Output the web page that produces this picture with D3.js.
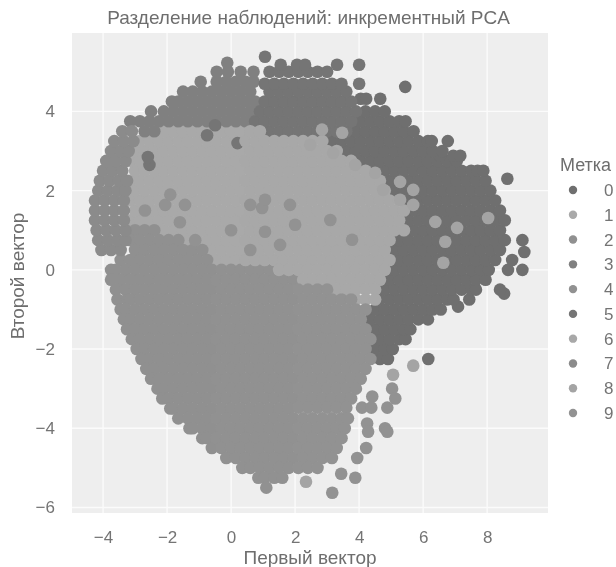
<!DOCTYPE html>
<html>
<head>
<meta charset="utf-8">
<script src="https://cdn.jsdelivr.net/npm/d3@7"></script>
<style>
  body { margin: 0; background: #fff; }
  svg { display: block; filter: blur(0.6px); font-family: "Liberation Sans", Arial, sans-serif; }
</style>
</head>
<body>
<svg id="chart" width="616" height="567"></svg>
<script>
const titleText = 'Разделение наблюдений: инкрементный PCA';
const xLabel = 'Первый вектор';
const yLabel = 'Второй вектор';
const legendTitle = 'Метка';
const labels = [0, 1, 2, 3, 4, 5, 6, 7, 8, 9];
const greys = ['#6f6f6f', '#a9a9a9', '#909090', '#808080', '#919191', '#757575', '#a8a8a8', '#8b8b8b', '#a4a4a4', '#929292'];
const xTicks = [-4, -2, 0, 2, 4, 6, 8];
const yTicks = [4, 2, 0, -2, -4, -6];

// each row: y first, then the x values read along that row
const rows0 = [
  [-2.25,4.65,4.9,6.16],
  [-2,4.5,4.8,5.05],
  [-1.75,4.65,4.95,5.25,5.45],
  [-1.5,4.5,4.8,5.1,5.4,5.6],
  [-1.25,4.35,4.65,4.95,5.25,5.55,5.85,6.15],
  [-1,4.5,4.8,5.1,5.4,5.7,6,6.3,6.55],
  [-0.93,7.09],
  [-0.75,4.65,4.95,5.25,5.55,5.85,6.15,6.45,6.75,6.95,7.44],
  [-0.6,8.53],
  [-0.5,4.8,5.1,5.4,5.7,6,6.3,6.6,6.9,7.2,7.5,7.65,8.4],
  [-0.25,4.95,5.25,5.55,5.85,6.15,6.45,6.75,7.05,7.35,7.65,7.95],
  [0,5.1,5.4,5.7,6,6.3,6.6,6.9,7.2,7.5,7.8,8.05,8.65,9.1],
  [0.25,5.25,5.55,5.85,6.15,6.45,6.75,7.05,7.35,7.65,7.95,8.25,8.78],
  [0.45,9.16],
  [0.5,5.1,5.4,5.7,6,6.3,6.6,6.9,7.2,7.5,7.8,8.1,8.4],
  [0.75,5.25,5.55,5.85,6.15,6.45,6.75,7.05,7.35,7.65,7.95,8.25,8.55,9.1],
  [1,5.7,6,6.3,6.6,6.9,7.2,7.5,7.8,8.1,8.4],
  [1.25,5.55,5.85,6.15,6.45,6.75,7.05,7.35,7.65,7.95,8.25,8.55],
  [1.5,5.7,6,6.3,6.6,6.9,7.2,7.5,7.8,8.1,8.4],
  [1.75,5.55,5.85,6.15,6.45,6.75,7.05,7.35,7.65,7.95,8.25],
  [2,5.1,5.4,5.7,6,6.3,6.6,6.9,7.2,7.5,7.8,8.1],
  [2.25,4.95,5.25,5.55,5.85,6.15,6.45,6.75,7.05,7.35,7.65,7.95],
  [2.3,8.63],
  [2.5,4.5,4.8,5.1,5.4,5.7,6,6.3,6.6,6.9,7.2,7.5,7.7,7.88],
  [2.75,4.05,4.35,4.65,4.95,5.25,5.55,5.85,6.15,6.45,6.75,7.05],
  [2.88,6.53,6.94,7.16],
  [3,3.6,3.9,4.2,4.5,4.8,5.1,5.4,5.7,6,6.3,6.6],
  [3.25,3.15,3.45,3.75,4.05,4.35,4.65,4.95,5.25,5.55,5.85,6.15,6.27,6.77],
  [3.5,3.9,4.2,4.5,4.8,5.1,5.4,5.7],
  [3.75,4.05,4.35,4.65,4.95,5.25,5.45],
  [4,4.2,4.5,4.8],
  [4.32,4.05,4.22,4.66],
  [4.62,5.44]
];
const rows1 = [
  [0.25,-0.45,-0.15,0.15],
  [0.5,-0.6,-0.3,0,0.3],
  [0.75,-1.35,-1.05,-0.75,-0.45,-0.15,0.15],
  [1,-2.1,-1.8,-1.5,-1.2,-0.9,-0.6,-0.3,0,0.3],
  [1.25,-3.15,-2.85,-2.55,-2.25,-1.95,-1.65,-1.35,-1.05,-0.75,-0.45,-0.15,0.15],
  [1.5,-3,-2.7,-2.4,-2.1,-1.8,-1.5,-1.2,-0.9,-0.6,-0.3,0,0.3],
  [1.75,-3.15,-2.85,-2.55,-2.25,-1.95,-1.65,-1.35,-1.05,-0.75,-0.45,-0.15,0.15],
  [2,-3,-2.7,-2.4,-2.1,-1.8,-1.5,-1.2,-0.9,-0.6,-0.3,0,0.3],
  [2.25,-3.15,-2.85,-2.55,-2.25,-1.95,-1.65,-1.35,-1.05,-0.75,-0.45,-0.15,0.15],
  [2.5,-3,-2.7,-2.4,-2.1,-1.8,-1.5,-1.2,-0.9,-0.6,-0.3,0,0.3],
  [2.75,-3.15,-2.85,-2.55,-2.25,-1.95,-1.65,-1.35,-1.05,-0.75,-0.45,-0.15,0.15],
  [3,-3,-2.7,-2.4,-2.1,-1.8,-1.5,-1.2,-0.9,-0.6,-0.3,0,0.3],
  [3.25,-2.85,-2.55,-2.25,-1.95,-1.65,-1.35,-1.05,-0.75,-0.45,-0.15,0.15],
  [3.5,-2.1,-1.8,-1.5,-1.2,-0.9,-0.6,-0.3,0,0.3]
];
const rows2 = [
  [1,-3,-2.7,-2.4],
  [0.75,-3.15,-2.85,-2.55,-2.25,-1.95,-1.65],
  [0.5,-3,-2.7,-2.4,-2.1,-1.8,-1.5,-1.2,-0.9],
  [0.25,-3.45,-3.15,-2.85,-2.55,-2.25,-1.95,-1.65,-1.35,-1.05,-0.75],
  [0,-3.75,-3.6,-3.3,-3,-2.7,-2.4,-2.1,-1.8,-1.5,-1.2,-0.9,-0.6],
  [-0.25,-3.75,-3.45,-3.15,-2.85,-2.55,-2.25,-1.95,-1.65,-1.35,-1.05,-0.75],
  [-0.5,-3.6,-3.3,-3,-2.7,-2.4,-2.1,-1.8,-1.5,-1.2,-0.9,-0.6],
  [-0.75,-3.55,-3.25,-3.15,-2.85,-2.55,-2.25,-1.95,-1.65,-1.35,-1.05,-0.75],
  [-1,-3.45,-3.3,-3,-2.7,-2.4,-2.1,-1.8,-1.5,-1.2,-0.9,-0.6],
  [-1.25,-3.35,-3.15,-2.85,-2.55,-2.25,-1.95,-1.65,-1.35,-1.05,-0.75],
  [-1.5,-3.25,-3,-2.7,-2.4,-2.1,-1.8,-1.5,-1.2,-0.9,-0.6],
  [-1.75,-3.1,-2.85,-2.55,-2.25,-1.95,-1.65,-1.35,-1.05,-0.75],
  [-2,-2.95,-2.7,-2.4,-2.1,-1.8,-1.5,-1.2,-0.9,-0.6],
  [-2.25,-2.8,-2.55,-2.25,-1.95,-1.65,-1.35,-1.05,-0.75],
  [-2.5,-2.65,-2.4,-2.1,-1.8,-1.5,-1.2,-0.9,-0.6],
  [-2.75,-2.5,-2.25,-1.95,-1.65,-1.35,-1.05,-0.75],
  [-3,-2.3,-2.1,-1.8,-1.5,-1.2,-0.9,-0.6],
  [-3.25,-2.15,-1.95,-1.65,-1.35,-1.05,-0.75],
  [-3.5,-1.9,-1.8,-1.5,-1.2,-0.9,-0.6],
  [-3.75,-1.65,-1.35,-1.05,-0.75],
  [-4,-1.3,-1.2,-0.9,-0.6],
  [-4.25,-0.9,-0.75],
  [-4.5,-0.6]
];
const rows3 = [
  [3.5,-2.7,-2.4],
  [3.75,-3.15,-2.85,-2.55,-2.25,-1.95,-1.65,-1.35,-1.05,-0.75,-0.45,-0.15,0.15,0.45],
  [4,-2.5,-2.1,-1.8,-1.5,-1.2,-0.9,-0.6,-0.3,0,0.3,0.6],
  [4.25,-1.85,-1.65,-1.35,-1.05,-0.75,-0.45,-0.15,0.15,0.45,0.75],
  [4.5,-1.5,-1.2,-0.9,-0.6,-0.3,0,0.3,0.6],
  [4.75,-0.95,-0.45,-0.15,0.15,0.45,0.7],
  [5,-0.45,-0.1,0.3,0.7],
  [5.23,-0.12]
];
const rows4 = [
  [0,-0.3,0,0.3,0.6,0.9,1.2],
  [-0.25,-0.45,-0.15,0.15,0.45,0.75,1.05,1.35,1.65,1.95],
  [-0.5,-0.3,0,0.3,0.6,0.9,1.2,1.5,1.8],
  [-0.75,-0.45,-0.15,0.15,0.45,0.75,1.05,1.35,1.65,1.95],
  [-1,-0.3,0,0.3,0.6,0.9,1.2,1.5,1.8],
  [-1.25,-0.45,-0.15,0.15,0.45,0.75,1.05,1.35,1.65,1.95],
  [-1.5,-0.3,0,0.3,0.6,0.9,1.2,1.5,1.8],
  [-1.75,-0.45,-0.15,0.15,0.45,0.75,1.05,1.35,1.65,1.95],
  [-2,-0.3,0,0.3,0.6,0.9,1.2,1.5,1.8],
  [-2.25,-0.45,-0.15,0.15,0.45,0.75,1.05,1.35,1.65,1.95],
  [-2.5,-0.3,0,0.3,0.6,0.9,1.2,1.5,1.8],
  [-2.75,-0.45,-0.15,0.15,0.45,0.75,1.05,1.35,1.65,1.95],
  [-3,-0.3,0,0.3,0.6,0.9,1.2,1.5,1.8],
  [-3.25,-0.45,-0.15,0.15,0.45,0.75,1.05,1.35,1.65,1.95],
  [-3.5,-0.3,0,0.3,0.6,0.9,1.2,1.5,1.8],
  [-3.75,-0.45,-0.15,0.15,0.45,0.75,1.05,1.35,1.65,1.95],
  [-4,-0.3,0,0.3,0.6,0.9,1.2,1.5,1.8],
  [-4.25,-0.45,-0.15,0.15,0.45,0.75,1.05,1.35,1.65,1.95],
  [-4.5,-0.3,0,0.3,0.6,0.9,1.2,1.5,1.8],
  [-4.75,-0.15,0.15,0.45,0.75,1.05,1.35,1.65,1.95],
  [-5,0.35,0.6,0.9,1.2,1.5,1.8],
  [-5.25,0.85,1.05,1.35,1.6],
  [-5.5,1.1]
];
const rows5 = [
  [2.65,-2.55],
  [2.85,-2.6],
  [3.2,0.2],
  [3.4,-0.75],
  [3.65,-0.5],
  [3.5,1.2,1.5,1.8,2.1,2.4,2.7,3,3.3,3.6],
  [3.75,0.75,1.05,1.35,1.65,1.95,2.25,2.55,2.85,3.15,3.45,3.75],
  [4,0.9,1.2,1.5,1.8,2.1,2.4,2.7,3,3.3,3.6,3.9],
  [4.25,1.05,1.35,1.65,1.95,2.25,2.55,2.85,3.15,3.45,3.75],
  [4.5,1.2,1.5,1.8,2.1,2.4,2.7,3,3.3,3.6],
  [4.7,1.05,1.35,1.65,1.95,2.25,2.55,2.85,3.15,3.45,4],
  [5,1.2,1.5,1.8,2.1,2.4,2.7,3],
  [5.18,1.55,2.06,2.31,3.31,4],
  [5.38,1.06]
];
const rows6 = [
  [0.25,0.45,0.75,1.05,1.35,1.65,1.95,2.25,2.55,2.85,3.15,3.45,3.75,4.05,4.35,4.65,4.95],
  [0,1.5,1.8,2.1,2.4,2.7,3,3.3,3.6,3.9,4.2,4.5,4.8],
  [-0.25,2.25,2.55,2.85,3.15,3.45,3.75,4.05,4.35,4.65],
  [-0.5,3.3,3.6,3.9,4.2,4.5],
  [-0.75,3.9,4.2,4.5],
  [0.5,0.6,0.9,1.2,1.5,1.8,2.1,2.4,2.7,3,3.3,3.6,3.9,4.2,4.5,4.8],
  [0.75,0.45,0.75,1.05,1.35,1.65,1.95,2.25,2.55,2.85,3.15,3.45,3.75,4.05,4.35,4.65,4.95],
  [1,0.6,0.9,1.2,1.5,1.8,2.1,2.4,2.7,3,3.3,3.6,3.9,4.2,4.5,4.8,5.1,5.4],
  [1.25,0.45,0.75,1.05,1.35,1.65,1.95,2.25,2.55,2.85,3.15,3.45,3.75,4.05,4.35,4.65,4.95,5.25],
  [1.5,0.6,0.9,1.2,1.5,1.8,2.1,2.4,2.7,3,3.3,3.6,3.9,4.2,4.5,4.8,5.1,5.4],
  [1.75,0.45,0.75,1.05,1.35,1.65,1.95,2.25,2.55,2.85,3.15,3.45,3.75,4.05,4.35,4.65,4.95,5.25],
  [2,0.6,0.9,1.2,1.5,1.8,2.1,2.4,2.7,3,3.3,3.6,3.9,4.2,4.5,4.8],
  [2.25,0.45,0.75,1.05,1.35,1.65,1.95,2.25,2.55,2.85,3.15,3.45,3.75,4.05,4.35,4.65],
  [2.5,0.6,0.9,1.2,1.5,1.8,2.1,2.4,2.7,3,3.3,3.6,3.9,4.2],
  [2.75,0.45,0.75,1.05,1.35,1.65,1.95,2.25,2.55,2.85,3.15,3.45,3.75],
  [3,0.6,0.9,1.2,1.5,1.8,2.1,2.4,2.7,3,3.3],
  [3.25,0.45,0.75,1.05,1.35,1.65,1.95,2.25,2.55,2.85],
  [3.5,0.6,0.9]
];
const rows7 = [
  [0.5,-4.05,-3.75,-3.45],
  [0.75,-4.15,-3.85,-3.55,-3.3],
  [1,-4.2,-3.9,-3.6,-3.3],
  [1.25,-4.25,-3.95,-3.65,-3.35],
  [1.5,-4.25,-3.95,-3.65,-3.35],
  [1.75,-4.25,-3.95,-3.65,-3.35],
  [2,-4.15,-3.85,-3.55,-3.3],
  [2.25,-4.1,-3.8,-3.5,-3.25],
  [2.5,-4,-3.7,-3.4],
  [2.75,-3.9,-3.6,-3.3],
  [3,-3.75,-3.45,-3.2],
  [3.25,-3.65,-3.35,-3.05],
  [3.5,-3.4,-3.1]
];
const rows8 = [
  [1.06,7.06],[0.71,6.69],[0.18,6.63],[1.31,8.03],[1.21,6.38],[2.22,5.28],[2.45,4.5],
  [2.02,5.69,4.75],[1.64,5.69],[3.46,3.47],[3.54,2.84],[3.16,2.47],[2.95,3.19],[2.65,3.88],
  [1.77,5.28],[-2.42,5.69],[-2.65,5.06],[-5.35,2.34]
];
const rows9 = [
  [-0.5,2.1,2.4,2.7,3],
  [-0.75,2.25,2.55,2.85,3.15,3.45,3.75],
  [-1,2.1,2.4,2.7,3,3.3,3.6,3.9,4.2],
  [-1.25,2.25,2.55,2.85,3.15,3.45,3.75,4.05],
  [-1.5,2.1,2.4,2.7,3,3.3,3.6,3.9,4.2],
  [-1.75,2.25,2.55,2.85,3.15,3.45,3.75,4.05,4.35],
  [-2,2.1,2.4,2.7,3,3.3,3.6,3.9,4.2],
  [-2.25,2.25,2.55,2.85,3.15,3.45,3.75,4.05,4.35],
  [-2.5,2.1,2.4,2.7,3,3.3,3.6,3.9,4.2],
  [-2.75,2.25,2.55,2.85,3.15,3.45,3.75,4.05],
  [-3,2.1,2.4,2.7,3,3.3,3.6,3.9,5.03],
  [-3.2,4.41],
  [-3.25,2.25,2.55,2.85,3.15,3.45,3.75,5.13],
  [-3.48,2.1,2.4,2.7,3,3.3,3.6,4.09,4.38,4.88],
  [-3.75,2.25,2.55,2.85,3.15,3.45,3.65],
  [-3.88,4.25],
  [-4,2.1,2.4,2.7,3,3.3,3.55,4.81],
  [-4.09,4.28,4.88],
  [-4.25,2.25,2.55,2.85,3.15,3.45],
  [-4.5,2.1,2.4,2.7,3,3.3,4.22],
  [-4.75,2.25,2.55,2.85,3.15,3.94],
  [-5,2.1,2.4,2.7],
  [-5.15,3.44],
  [-5.25,3.88],
  [-5.63,3.16],
  [0.5,0.6],[0.63,1.53],[0.75,-1.12],[0.76,3.78],[0.96,1.06],[1,0],[1.14,2],[1.2,-1.6],
  [1.26,3.1],[1.5,-2.69],[1.56,0.97],[1.64,-2.06,-1.44,0.6,1.84],[1.77,1.06],[1.9,-1.9]
];
const allRows = [rows0, rows1, rows2, rows3, rows4, rows5, rows6, rows7, rows8, rows9];

const svg = d3.select('#chart');

const x = d3.scaleLinear().domain([-4.97, 9.9]).range([72, 548]);
const y = d3.scaleLinear().domain([-6.14, 5.98]).range([513, 33]);
const color = d3.scaleOrdinal(labels, greys);

svg.append('rect')
  .attr('x', 72).attr('y', 33)
  .attr('width', 476).attr('height', 480)
  .attr('fill', '#eeeeee');

// grid
svg.append('g').selectAll('line').data(xTicks).join('line')
  .attr('x1', d => x(d)).attr('x2', d => x(d))
  .attr('y1', 33).attr('y2', 513)
  .attr('stroke', '#fbfbfb').attr('stroke-width', 1.4);
svg.append('g').selectAll('line').data(yTicks).join('line')
  .attr('x1', 72).attr('x2', 548)
  .attr('y1', d => y(d)).attr('y2', d => y(d))
  .attr('stroke', '#fbfbfb').attr('stroke-width', 1.4);

// points, one group per label
labels.forEach(label => {
  const points = allRows[label].flatMap(row => row.slice(1).map(px => [px, row[0]]));
  svg.append('g').selectAll('circle').data(points).join('circle')
    .attr('cx', d => x(d[0]))
    .attr('cy', d => y(d[1]))
    .attr('r', 6.3)
    .attr('fill', color(label));
});

// axes
const xAxis = svg.append('g')
  .attr('transform', 'translate(0,513)')
  .call(d3.axisBottom(x).tickValues(xTicks).tickSize(0).tickPadding(18));
const yAxis = svg.append('g')
  .attr('transform', 'translate(72,0)')
  .call(d3.axisLeft(y).tickValues(yTicks).tickSize(0).tickPadding(17));
[xAxis, yAxis].forEach(axis => {
  axis.select('.domain').remove();
  axis.selectAll('text')
    .attr('font-family', '"Liberation Sans", Arial, sans-serif')
    .attr('font-size', 17)
    .attr('fill', '#747474');
});

svg.append('text')
  .attr('x', 308.5).attr('y', 24)
  .attr('text-anchor', 'middle')
  .attr('font-size', 19)
  .attr('fill', '#6e6e6e')
  .text(titleText);
svg.append('text')
  .attr('x', 310).attr('y', 564)
  .attr('text-anchor', 'middle')
  .attr('font-size', 19)
  .attr('fill', '#6e6e6e')
  .text(xLabel);
svg.append('text')
  .attr('transform', 'translate(24,276) rotate(-90)')
  .attr('text-anchor', 'middle')
  .attr('font-size', 19)
  .attr('fill', '#6e6e6e')
  .text(yLabel);

// legend
svg.append('text')
  .attr('x', 560).attr('y', 171)
  .attr('font-size', 18)
  .attr('fill', '#6e6e6e')
  .text(legendTitle);
const legend = d3.scaleLinear().domain([0, 9]).range([190, 413]);
const legendRow = svg.append('g').selectAll('g').data(labels).join('g')
  .attr('transform', d => `translate(0,${legend(d)})`);
legendRow.append('circle')
  .attr('cx', 573)
  .attr('r', 4.2)
  .attr('fill', d => color(d));
legendRow.append('text')
  .attr('x', 604).attr('y', 6)
  .attr('font-size', 17)
  .attr('fill', '#747474')
  .text(d => d);
</script>
</body>
</html>
